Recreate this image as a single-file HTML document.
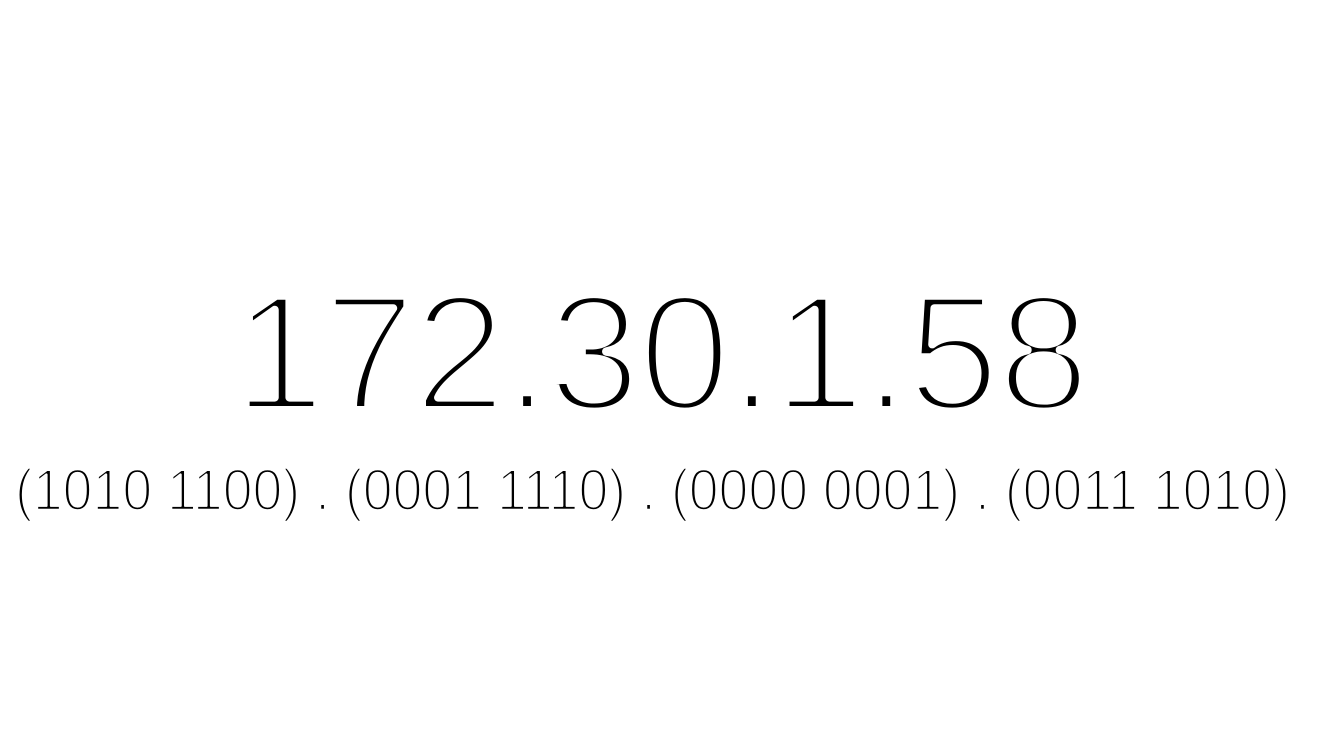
<!DOCTYPE html>
<html>
<head>
<meta charset="utf-8">
<style>
  html, body { margin: 0; padding: 0; background: #ffffff; }
  body { width: 1317px; height: 742px; overflow: hidden; }
  svg { display: block; }
  text { font-family: "Liberation Sans", "DejaVu Sans", sans-serif; fill: #000; stroke: #ffffff; paint-order: fill stroke; stroke-linejoin: round; }
</style>
</head>
<body>
<svg width="1317" height="742" viewBox="0 0 1317 742">
  <rect x="0" y="0" width="1317" height="742" fill="#ffffff"/>
  <text x="233" y="410" font-size="166" textLength="857" lengthAdjust="spacing" stroke-width="8">172.30.1.58</text>
  <text x="15" y="510" font-size="58" textLength="1275" lengthAdjust="spacingAndGlyphs" stroke-width="2.6">(1010 1100) . (0001 1110) . (0000 0001) . (0011 1010)</text>
</svg>
</body>
</html>
